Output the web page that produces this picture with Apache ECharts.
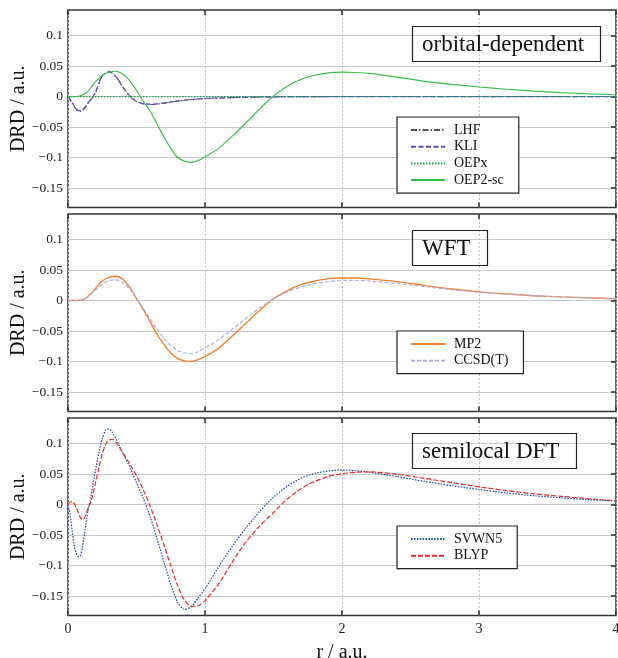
<!DOCTYPE html>
<html><head><meta charset="utf-8">
<script src="https://cdn.jsdelivr.net/npm/echarts@6/dist/echarts.min.js"></script>
<style>html,body{margin:0;padding:0;background:#fff}#c{width:618px;height:658px}</style>
</head><body><div id="c"></div><script>
// ---- data ----
const r1 = [0,0.025,0.05,0.075,0.1,0.125,0.15,0.175,0.2,0.25,0.3,0.35,0.4,0.45,0.5,0.55,0.6,0.65,0.7,0.75,0.8,0.85,0.9,0.95,1.0,1.1,1.2,1.3,1.4,1.5,1.6,1.7,1.8,1.9,2.0,2.1,2.2,2.4,2.6,2.8,3.0,3.2,3.4,3.6,3.8,4.0];
const lhf = [0,-0.008,-0.018,-0.024,-0.024,-0.018,-0.010,-0.003,0.006,0.034,0.041,0.033,0.016,0.001,-0.008,-0.012,-0.013,-0.0125,-0.011,-0.009,-0.0075,-0.006,-0.005,-0.004,-0.0033,-0.0025,-0.0018,-0.0012,-0.0008,-0.0005,-0.0003,-0.0002,-0.0001,0,0,0,0,0,0,0,0,0,0,0,0,0];
const kli = [0,-0.007,-0.017,-0.023,-0.023,-0.017,-0.009,-0.002,0.007,0.034,0.040,0.032,0.016,0.001,-0.008,-0.0115,-0.0125,-0.012,-0.0105,-0.0088,-0.0072,-0.0058,-0.0047,-0.0038,-0.0031,-0.0023,-0.0016,-0.0011,-0.0007,-0.0004,-0.0002,-0.0001,0,0,0,0,0,0,0,0,0,0,0,0,0,0];
const oepx = [0,0,0,0,0,0,0,0,0,0,0,0,0,0,0,0,0,0,0,0,0,0,0,0,0,0,0,0,0,0,0,0,0,0,0,0,0,0,0,0,0,0,0,0,0,0];
const oep2sc = [0,0,0,0.0005,0.002,0.005,0.010,0.017,0.024,0.035,0.040,0.0415,0.037,0.026,0.010,-0.008,-0.024,-0.045,-0.066,-0.085,-0.100,-0.106,-0.108,-0.105,-0.099,-0.085,-0.065,-0.043,-0.020,0.001,0.017,0.028,0.035,0.039,0.040,0.0395,0.038,0.032,0.025,0.020,0.0157,0.012,0.009,0.0065,0.0045,0.003];

const r2 = [0,0.025,0.05,0.075,0.1,0.125,0.15,0.175,0.2,0.25,0.3,0.35,0.4,0.45,0.5,0.55,0.6,0.65,0.7,0.75,0.8,0.85,0.9,0.95,1.0,1.1,1.2,1.3,1.4,1.5,1.6,1.7,1.8,1.9,2.0,2.1,2.2,2.4,2.6,2.8,3.0,3.2,3.4,3.6,3.8,4.0];
const mp2 = [0,0,0,0.0003,0.001,0.003,0.008,0.013,0.020,0.032,0.038,0.040,0.035,0.022,0.003,-0.015,-0.035,-0.055,-0.072,-0.086,-0.095,-0.099,-0.100,-0.097,-0.092,-0.078,-0.058,-0.037,-0.016,0.003,0.016,0.026,0.032,0.036,0.037,0.037,0.0355,0.031,0.025,0.019,0.0143,0.011,0.008,0.006,0.0045,0.003];
const ccsdt = [0,0,0,0.0003,0.001,0.003,0.007,0.012,0.017,0.027,0.033,0.034,0.030,0.019,0.003,-0.013,-0.030,-0.047,-0.062,-0.074,-0.082,-0.086,-0.087,-0.084,-0.078,-0.064,-0.047,-0.029,-0.012,0.003,0.014,0.022,0.028,0.031,0.033,0.033,0.032,0.028,0.023,0.018,0.0135,0.0105,0.008,0.006,0.0045,0.003];

const r3 = [0,0.015,0.03,0.045,0.06,0.075,0.09,0.105,0.12,0.135,0.15,0.165,0.18,0.2,0.225,0.25,0.275,0.3,0.325,0.35,0.4,0.45,0.5,0.55,0.6,0.65,0.7,0.75,0.8,0.85,0.9,0.95,1.0,1.1,1.2,1.3,1.4,1.5,1.6,1.7,1.8,1.9,2.0,2.1,2.2,2.4,2.6,2.8,3.0,3.2,3.4,3.6,3.8,4.0];
const svwn5 = [0,-0.015,-0.042,-0.066,-0.080,-0.085,-0.084,-0.070,-0.048,-0.025,-0.006,0.010,0.030,0.055,0.085,0.108,0.122,0.124,0.118,0.108,0.085,0.062,0.036,0.010,-0.020,-0.056,-0.094,-0.131,-0.160,-0.172,-0.168,-0.153,-0.138,-0.102,-0.068,-0.038,-0.011,0.012,0.030,0.043,0.051,0.055,0.0565,0.0555,0.053,0.046,0.038,0.031,0.0247,0.019,0.0145,0.011,0.008,0.006];
const blyp = [0,0.004,0.005,0.002,-0.005,-0.013,-0.021,-0.025,-0.022,-0.013,-0.004,0.003,0.015,0.035,0.060,0.083,0.099,0.106,0.107,0.102,0.085,0.067,0.047,0.024,-0.003,-0.033,-0.066,-0.100,-0.133,-0.157,-0.167,-0.166,-0.158,-0.130,-0.094,-0.061,-0.035,-0.013,0.009,0.026,0.038,0.046,0.0506,0.053,0.0535,0.050,0.043,0.036,0.029,0.023,0.0175,0.0135,0.0095,0.006];

const yTicks = [-0.15,-0.1,-0.05,0,0.05,0.1];
const xTicksLabels = ['0','1','2','3','4'];
const panelTitles = ['orbital-dependent','WFT','semilocal DFT'];
const legendNames = [['LHF','KLI','OEPx','OEP2-sc'],['MP2','CCSD(T)'],['SVWN5','BLYP']];

// ---- layout ----
const FONT = 'Liberation Serif';
const YMIN = -0.182, YMAX = 0.142;
const gridTops = [10, 214, 418];
const gridH = 197.5;
const tickStyle = {color:'#333', width:1.6};

const grids = gridTops.map(t => ({left:68, width:548, top:t, height:gridH, show:true,
  borderColor:'#333', borderWidth:1.5, backgroundColor:'transparent',
  containLabel:false, outerBoundsMode:'none'}));

const xAxes = [], yAxes = [];
for (let g = 0; g < 3; g++) {
  xAxes.push({
    gridIndex:g, type:'value', min:0, max:4, interval:1, position:'bottom',
    axisLine:{show:false, onZero:false},
    axisTick:{show:true, inside:true, length:5, lineStyle:tickStyle},
    axisLabel:{show:g===2, fontFamily:FONT, fontSize:14, color:'#222', margin:7,
      formatter:v => xTicksLabels[Math.round(v)]},
    splitLine:{show:true, lineStyle:{color:'#c4c4c4', width:1, type:[2,2]}},
    name: g===2 ? 'r / a.u.' : '', nameLocation:'middle', nameGap:27, nameMoveOverlap:false,
    nameTextStyle:{fontFamily:FONT, fontSize:20, color:'#111'}
  });
  xAxes.push({
    gridIndex:g, type:'value', min:0, max:4, interval:1, position:'top',
    axisLine:{show:false, onZero:false},
    axisTick:{show:true, inside:true, length:5, lineStyle:tickStyle},
    axisLabel:{show:false}, splitLine:{show:false}
  });
  yAxes.push({
    gridIndex:g, type:'value', min:YMIN, max:YMAX, position:'left',
    axisLine:{show:false, onZero:false},
    axisTick:{show:false, customValues:yTicks},
    axisLabel:{customValues:yTicks, fontFamily:FONT, fontSize:13.5, color:'#222', margin:5,
      formatter:v => { const a = +Math.abs(v).toFixed(2); return (v < -1e-9 ? '\u2212' : '') + String(a); }},
    splitLine:{show:true, lineStyle:{color:'#c8c8c8', width:1}},
    name:'DRD / a.u.', nameLocation:'middle', nameGap:39, nameMoveOverlap:false,
    nameTextStyle:{fontFamily:FONT, fontSize:20, color:'#111'}
  });
  yAxes.push({
    gridIndex:g, type:'value', min:YMIN, max:YMAX, position:'right',
    axisLine:{show:false, onZero:false},
    axisTick:{show:true, inside:true, length:5, customValues:yTicks, lineStyle:tickStyle},
    axisLabel:{show:false}, splitLine:{show:false}
  });
}

function mk(name, xs, ys, g, color, type, width) {
  return {
    name, type:'line', xAxisIndex:2*g, yAxisIndex:2*g,
    data: xs.map((x,i) => [x, ys[i]]),
    symbol:'none', smooth:0.25, clip:true,
    lineStyle:{color, type, width}, itemStyle:{color}
  };
}

const series = [
  mk('LHF', r1, lhf, 0, '#555555', [6,2,1.5,2], 1.1),
  mk('KLI', r1, kli, 0, '#5a4fc6', [5,2.5], 1.2),
  mk('OEPx', r1, oepx, 0, '#1c9a58', [1.5,1.5], 1.3),
  mk('OEP2-sc', r1, oep2sc, 0, '#3cbf4a', 'solid', 1.2),
  mk('MP2', r2, mp2, 1, '#f5812a', 'solid', 1.4),
  mk('CCSD(T)', r2, ccsdt, 1, '#aeaee6', [4,2], 1.2),
  mk('SVWN5', r3, svwn5, 2, '#2a4fb8', [1.6,1.3], 1.2),
  mk('BLYP', r3, blyp, 2, '#ee2a2a', [5,2], 1.2)
];

const titleBase = {padding:[7,17,6,10], borderColor:'#222', borderWidth:1.2,
  textStyle:{fontFamily:FONT, fontSize:23, fontWeight:'normal', color:'#111'}};
const titleTops = [26, 230, 433];
const titles = panelTitles.map((t,i) => Object.assign({}, titleBase, {text:t, left:412, top:titleTops[i]}));

const legendTops = [117, 331, 526];
const legends = legendNames.map((names,i) => ({
  data:names, orient:'vertical', left:397, top:legendTops[i],
  padding:[6,15,6,13], itemWidth:34, itemHeight:14, itemGap:2.7,
  borderColor:'#222', borderWidth:1.2, backgroundColor:'#fff',
  itemStyle:{opacity:0},
  textStyle:{fontFamily:FONT, fontSize:14, color:'#111', padding:[0,0,0,4]},
  selectedMode:false
}));

const chart = echarts.init(document.getElementById('c'));
chart.setOption({
  animation:false,
  backgroundColor:'#fff',
  title:titles,
  legend:legends,
  grid:grids,
  xAxis:xAxes,
  yAxis:yAxes,
  series
});
</script></body></html>
